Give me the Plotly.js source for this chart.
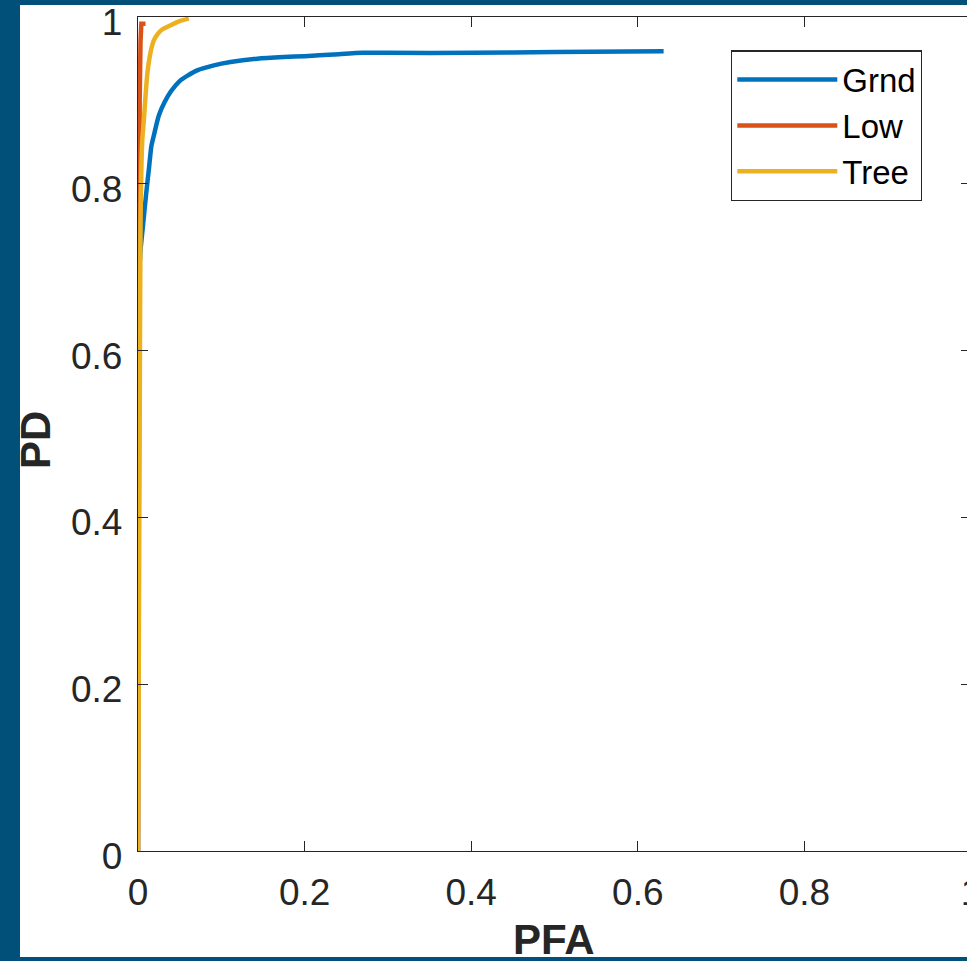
<!DOCTYPE html>
<html>
<head>
<meta charset="utf-8">
<script src="https://cdn.plot.ly/plotly-3.0.1.min.js"></script>
<style>
  html, body { margin: 0; padding: 0; width: 967px; height: 961px; overflow: hidden; background: #00507A; }
  #chart { position: absolute; left: 20px; top: 5px; width: 961px; height: 952px; overflow: hidden; background: #ffffff; }
</style>
</head>
<body>
<div id="chart"></div>
<script>
// ROC data
const grndPFA = [0, 0.0, 0.003, 0.006, 0.010, 0.013, 0.016, 0.019, 0.025, 0.032, 0.039, 0.051, 0.060, 0.071, 0.091, 0.111, 0.143, 0.175, 0.200, 0.235, 0.270, 0.300, 0.400, 0.500, 0.631];
const grndPD  = [0, 0.65, 0.72, 0.75, 0.79, 0.817, 0.845, 0.858, 0.882, 0.898, 0.910, 0.924, 0.930, 0.936, 0.942, 0.946, 0.950, 0.952, 0.953, 0.955, 0.957, 0.957, 0.957, 0.958, 0.959];

const lowPFA = [0, 0.001, 0.002, 0.003, 0.004, 0.004, 0.009];
const lowPD  = [0, 0.60, 0.90, 0.97, 0.985, 0.992, 0.992];

const treePFA = [0, 0.002, 0.003, 0.005, 0.007, 0.009, 0.011, 0.013, 0.016, 0.019, 0.024, 0.029, 0.039, 0.050, 0.061];
const treePD  = [0, 0.50, 0.75, 0.85, 0.876, 0.905, 0.930, 0.946, 0.962, 0.972, 0.980, 0.985, 0.990, 0.995, 0.998];

const seriesNames = ['Grnd', 'Low', 'Tree'];
const tickVals = [0, 0.2, 0.4, 0.6, 0.8, 1];
const tickText = ['0', '0.2', '0.4', '0.6', '0.8', '1'];
const xTitle = 'PFA';
const yTitle = 'PD';

const colors = ['#0072BD', '#D95319', '#EDB120'];
const axisColor = '#262626';
const font = 'Liberation Sans, Arial, Helvetica, sans-serif';

const traces = [
  {x: grndPFA, y: grndPD, name: seriesNames[0], type: 'scatter', mode: 'lines', line: {color: colors[0], width: 4.5, shape: 'spline', smoothing: 0.6}},
  {x: lowPFA, y: lowPD, name: seriesNames[1], type: 'scatter', mode: 'lines', line: {color: colors[1], width: 4.5}},
  {x: treePFA, y: treePD, name: seriesNames[2], type: 'scatter', mode: 'lines', line: {color: colors[2], width: 4.5, shape: 'spline', smoothing: 0.6}}
];

const axisCommon = {
  range: [0, 1],
  tickvals: tickVals,
  ticktext: tickText,
  ticks: 'inside',
  ticklen: 10,
  tickwidth: 1.2,
  tickcolor: axisColor,
  showline: true,
  linecolor: axisColor,
  linewidth: 1.2,
  mirror: 'ticks',
  showgrid: false,
  zeroline: false,
  ticklabeloverflow: 'allow',
  tickfont: {family: font, size: 37, color: axisColor},
  fixedrange: true
};

const layout = {
  width: 961,
  height: 952,
  margin: {l: 118, r: 10, t: 12, b: 106},
  paper_bgcolor: '#ffffff',
  plot_bgcolor: '#ffffff',
  showlegend: true,
  xaxis: Object.assign({}, axisCommon, {ticklabelstandoff: 8}),
  yaxis: Object.assign({}, axisCommon, {ticklabelstandoff: 7, ticklabelshift: 5}),
  annotations: [
    {text: '<b>' + xTitle + '</b>', xref: 'paper', yref: 'paper', x: 0.4988, y: -0.1067,
     xanchor: 'center', yanchor: 'middle', showarrow: false,
     font: {family: font, size: 42, color: axisColor}},
    {text: '<b>' + yTitle + '</b>', xref: 'paper', yref: 'paper', x: -0.1237, y: 0.4928,
     xanchor: 'center', yanchor: 'middle', showarrow: false, textangle: -90,
     font: {family: font, size: 42, color: axisColor}}
  ],
  legend: {
    x: 0.712, y: 0.960, xanchor: 'left', yanchor: 'top',
    bgcolor: '#ffffff',
    bordercolor: axisColor,
    borderwidth: 1.2,
    font: {family: font, size: 33, color: '#000000'},
    itemwidth: 100,
    tracegroupgap: 0
  }
};

Plotly.newPlot('chart', traces, layout, {staticPlot: true, displayModeBar: false});
</script>
</body>
</html>
